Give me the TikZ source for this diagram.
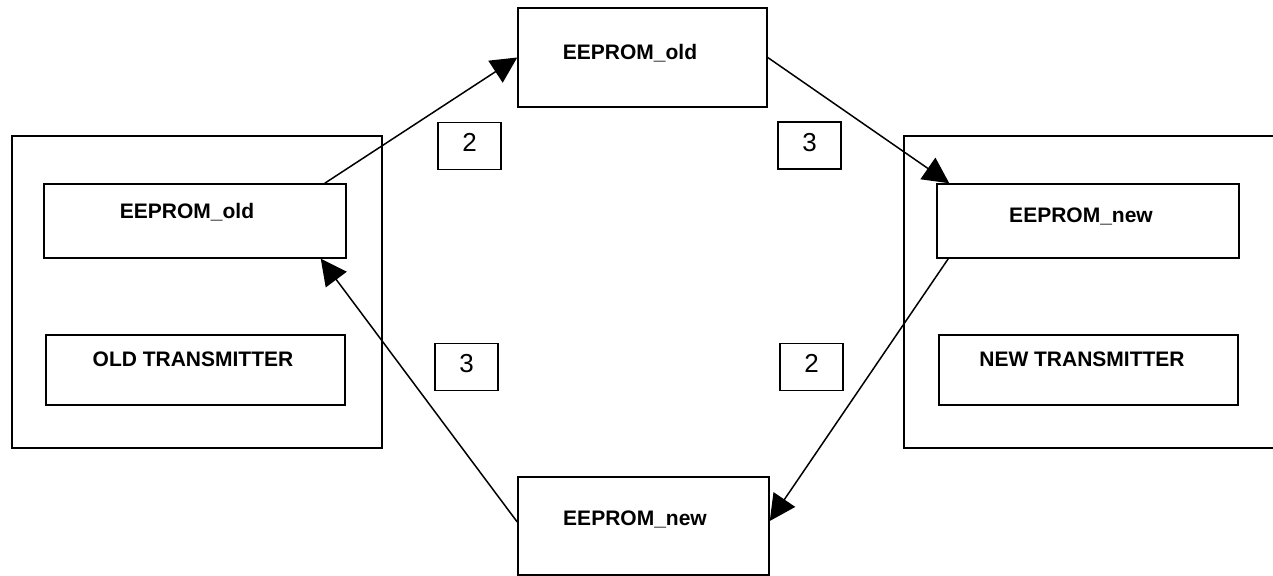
\documentclass[tikz,border=0pt]{standalone}
\usepackage{fontspec}
\setmainfont{Liberation Sans}
\usetikzlibrary{arrows.meta}
\begin{document}
\begin{tikzpicture}[x=0.5pt,y=-0.5pt,line width=0.75pt,
  frame/.style={draw,rectangle,inner sep=0pt},
  name text/.style={font=\fontsize{10.5}{12}\selectfont\bfseries,anchor=base,inner sep=0pt},
  num node/.style={draw,rectangle,inner sep=0pt,minimum width=31.5pt,minimum height=23.5pt,
    text depth=3.5pt,font=\fontsize{13}{15}\selectfont},
  flow/.style={-{Triangle[length=13pt,width=13pt]}}]
  \useasboundingbox (0,0) rectangle (1273,576);

  % transmitters
  \node[frame,minimum width=185pt,minimum height=156pt] at (197,292) (oldtx) {};
  \node[frame,minimum width=186pt,minimum height=156pt] at (1090,292) (newtx) {};

  \node[frame,minimum width=151pt,minimum height=37pt] at (195,221) (oldrom) {};
  \node[frame,minimum width=149.5pt,minimum height=35pt] at (195.5,370) (oldunit) {};
  \node[frame,minimum width=151pt,minimum height=37pt] at (1088,221) (newrom) {};
  \node[frame,minimum width=149.5pt,minimum height=35pt] at (1088.5,370) (newunit) {};

  % copies in between
  \node[frame,minimum width=124.5pt,minimum height=49.5pt] at (642.5,57.5) (topcopy) {};
  \node[frame,minimum width=125.5pt,minimum height=49pt] at (643.5,526) (botcopy) {};

  \node[name text] at (187,218.5) (t1) {EEPROM\_old};
  \node[name text] at (193,366.7) (t2) {OLD TRANSMITTER};
  \node[name text] at (1081,222.7) (t3) {EEPROM\_new};
  \node[name text] at (1082,366.7) (t4) {NEW TRANSMITTER};
  \node[name text] at (630,59.5) (t5) {EEPROM\_old};
  \node[name text] at (635,525.5) (t6) {EEPROM\_new};

  \path[flow]
  ([xshift=-11pt]oldrom.north east) edge (topcopy.west)
  (topcopy.east) edge ([xshift=6.5pt]newrom.north west);

  \path[flow]
  ([xshift=6pt]newrom.south west) edge ([yshift=2.5pt]botcopy.east)
  ([yshift=2pt]botcopy.west) edge ([xshift=-13pt]oldrom.south east);

  \node[num node] at (469.5,146) (s1) {2};
  \node[num node] at (809.5,145.5) (s2) {3};
  \node[num node] at (466.5,367) (s3) {3};
  \node[num node] at (811.5,367) (s4) {2};
\end{tikzpicture}
\end{document}
